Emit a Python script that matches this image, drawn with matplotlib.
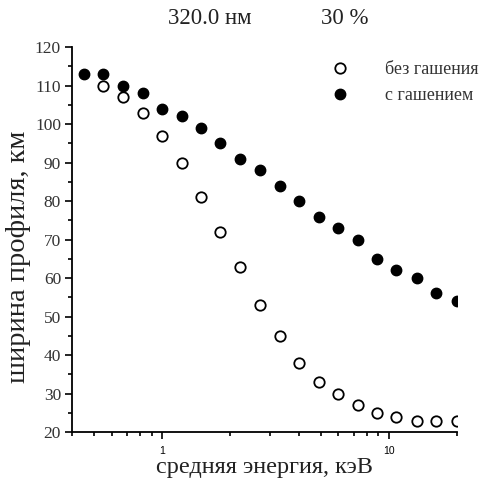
import numpy as np
import matplotlib
matplotlib.use('Agg')
import matplotlib.pyplot as plt
from matplotlib.ticker import LogLocator, FixedLocator, NullFormatter, MultipleLocator

# средняя энергия, кэВ
energiya = [0.45, 0.55, 0.67, 0.82, 1.0, 1.22, 1.48, 1.8, 2.2, 2.7,
            3.3, 4.0, 4.9, 6.0, 7.3, 8.9, 10.8, 13.3, 16.2, 20.0]
# ширина профиля с гашением
s_gasheniem = [113, 113, 110, 108, 104, 102, 99, 95, 91, 88,
               84, 80, 76, 73, 70, 65, 62, 60, 56, 54]
# без гашения (первая точка скрыта под черной)
energiya_bez = energiya[1:]
bez_gasheniya = [110, 107, 103, 97, 90, 81, 72, 63, 53,
                 45, 38, 33, 30, 27, 25, 24, 23, 23, 23]

serif = 'Liberation Serif'
sans = 'Liberation Sans'

fig = plt.figure(figsize=(4.84, 4.86), dpi=100)
ax = fig.add_axes([0.149, 0.111, 0.795, 0.792])

ax.plot(energiya_bez, bez_gasheniya, 'o', ms=7.5, mfc='white', mec='black', mew=1.3,
        linestyle='none', label='без гашения', zorder=3)
ax.plot(energiya, s_gasheniem, 'o', ms=7.5, mfc='black', mec='black',
        linestyle='none', label='с гашением', zorder=4)

ax.set_xscale('log')
ax.set_xlim(0.4, 20)
ax.set_ylim(20, 120)

ax.xaxis.set_major_locator(FixedLocator([1, 10]))
ax.xaxis.set_minor_locator(LogLocator(base=10, subs=np.arange(2, 10)))
ax.xaxis.set_minor_formatter(NullFormatter())
ax.set_xticklabels(['1', '10'], fontfamily=sans, fontsize=7.5)
ax.yaxis.set_major_locator(MultipleLocator(10))
ax.yaxis.set_minor_locator(MultipleLocator(5))
for lab in ax.get_yticklabels():
    lab.set_fontfamily(serif)
    lab.set_fontsize(12.5)
    lab.set_color('#333333')

ax.tick_params(which='major', direction='out', length=5, width=1.2)
ax.tick_params(which='minor', direction='out', length=3, width=1.2)
ax.tick_params(axis='x', pad=5)
ax.tick_params(axis='y', pad=3)

for side in ['top', 'right']:
    ax.spines[side].set_visible(False)
for side in ['left', 'bottom']:
    ax.spines[side].set_linewidth(1.3)

ax.set_xlabel('средняя энергия, кэВ', fontfamily=serif, fontsize=17.5, labelpad=1,
              color='#222222')
ax.set_ylabel('ширина профиля, км', fontfamily=serif, fontsize=20.5, color='#222222')
ax.yaxis.set_label_coords(-0.108, 0.455)

fig.text(0.434, 0.961, '320.0 нм', fontfamily=serif, fontsize=16.5, ha='center', va='center',
         color='#222222')
fig.text(0.713, 0.961, '30 %', fontfamily=serif, fontsize=16.5, ha='center', va='center',
         color='#222222')

ax.legend(loc='upper left', bbox_to_anchor=(0.665, 0.889), bbox_transform=fig.transFigure,
          frameon=False, prop={'family': serif, 'size': 13}, handletextpad=1.9,
          labelspacing=0.5, borderaxespad=0, handlelength=1.2, labelcolor='#333333')

fig.savefig('out.png', dpi=100)
